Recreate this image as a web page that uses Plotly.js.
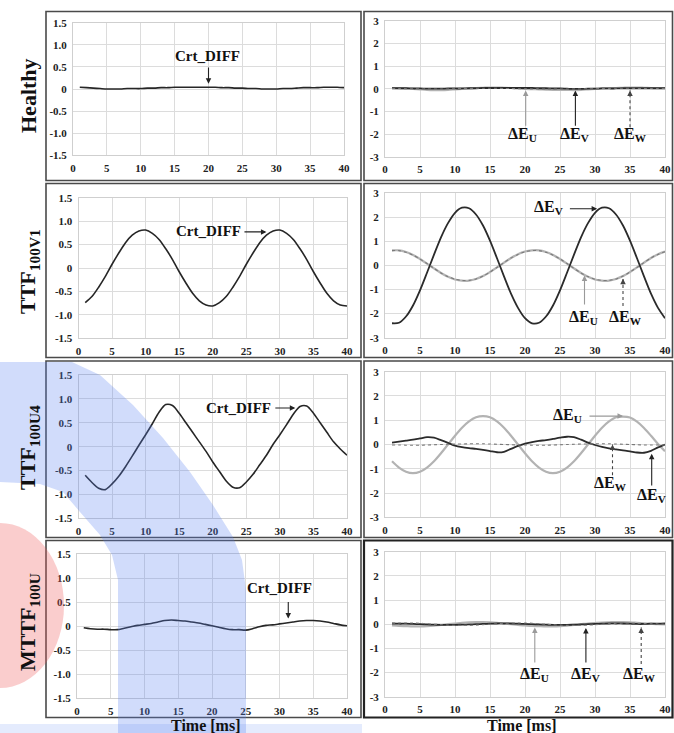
<!DOCTYPE html>
<html><head><meta charset="utf-8">
<script src="https://cdn.plot.ly/plotly-3.0.1.min.js"></script>
<style>html,body{margin:0;padding:0;background:#fff}#chart{width:674px;height:733px}</style>
</head><body><div id="chart"></div>
<script>
// ---------------- data ----------------
const time = [1,2,3,4,5,6,7,8,9,10,11,12,13,14,15,16,17,18,19,20,21,22,23,24,25,26,27,28,29,30,31,32,33,34,35,36,37,38,39,40];
const xTicks = [0,5,10,15,20,25,30,35,40];
const leftTickVals = [-1.5,-1,-0.5,0,0.5,1,1.5];
const leftTickText = ['-1.5','-1.0','-0.5','0','0.5','1.0','1.5'];
const rightTickVals = [-3,-2,-1,0,1,2,3];
const rightTickText = ['-3','-2','-1','0','1','2','3'];
const rowLabels = ['Healthy','TTF<sub>100V1</sub>','TTF<sub>100U4</sub>','MTTF<sub>100U</sub>'];
const xTitle = 'Time [ms]';

// Crt_DIFF (left column)
const crtHealthy = [0.04,0.03,0.02,0.01,0.0,0.0,0.0,0.01,0.01,0.01,0.02,0.02,0.03,0.03,0.04,0.04,0.04,0.04,0.04,0.04,0.04,0.03,0.03,0.02,0.02,0.01,0.01,0.0,0.0,0.0,0.01,0.01,0.02,0.03,0.03,0.03,0.04,0.04,0.04,0.03];
const crtTTF100V1 = [-0.74,-0.61,-0.41,-0.18,0.08,0.32,0.54,0.70,0.79,0.81,0.74,0.61,0.41,0.18,-0.08,-0.32,-0.54,-0.70,-0.79,-0.81,-0.74,-0.61,-0.41,-0.18,0.08,0.32,0.54,0.70,0.79,0.81,0.74,0.61,0.41,0.18,-0.08,-0.32,-0.54,-0.70,-0.79,-0.81];
const crtTTF100U4 = [-0.60,-0.75,-0.87,-0.90,-0.78,-0.62,-0.42,-0.20,0.03,0.25,0.48,0.72,0.88,0.86,0.70,0.50,0.30,0.10,-0.10,-0.32,-0.52,-0.72,-0.85,-0.86,-0.74,-0.58,-0.38,-0.18,0.05,0.25,0.46,0.68,0.84,0.85,0.70,0.50,0.30,0.10,-0.05,-0.18];
const crtMTTF100U = [-0.03,-0.05,-0.06,-0.06,-0.07,-0.07,-0.04,-0.01,0.02,0.04,0.06,0.09,0.12,0.13,0.12,0.11,0.09,0.07,0.04,0.01,-0.02,-0.05,-0.07,-0.07,-0.08,-0.05,-0.01,0.02,0.03,0.05,0.07,0.09,0.11,0.12,0.12,0.11,0.09,0.06,0.03,0.01];

// Delta E (right column)
const eUHealthy = [0.03,0.02,0.01,-0.01,-0.03,-0.05,-0.06,-0.06,-0.05,-0.03,-0.01,0.01,0.03,0.04,0.05,0.05,0.04,0.03,0.01,-0.01,-0.02,-0.03,-0.04,-0.05,-0.05,-0.05,-0.06,-0.05,-0.03,-0.01,0.01,0.02,0.03,0.04,0.05,0.05,0.04,0.03,0.02,0.02];
const eVHealthy = [0.02,0.02,0.02,0.01,0.01,0.0,0.0,0.0,0.01,0.01,0.01,0.02,0.02,0.03,0.03,0.03,0.03,0.03,0.03,0.03,0.03,0.02,0.02,0.01,0.01,0.0,-0.01,-0.01,0.0,0.0,0.01,0.01,0.01,0.02,0.02,0.02,0.02,0.02,0.02,0.02];
const eWHealthy = [0.01,0.01,0.0,0.0,-0.01,-0.01,-0.02,-0.02,-0.01,0.0,0.01,0.01,0.02,0.02,0.02,0.02,0.01,0.01,0.0,0.0,-0.01,-0.01,-0.02,-0.02,-0.02,-0.02,-0.01,-0.01,0.0,0.0,0.01,0.01,0.02,0.02,0.02,0.01,0.01,0.01,0.01,0.01];

const eUTTF100V1 = [0.63,0.63,0.56,0.44,0.27,0.08,-0.12,-0.31,-0.47,-0.58,-0.63,-0.63,-0.56,-0.44,-0.27,-0.08,0.12,0.31,0.47,0.58,0.63,0.63,0.56,0.44,0.27,0.08,-0.12,-0.31,-0.47,-0.58,-0.63,-0.63,-0.56,-0.44,-0.27,-0.08,0.12,0.31,0.47,0.58];
const eVTTF100V1 = [-2.40,-2.38,-2.12,-1.66,-1.03,-0.30,0.45,1.17,1.76,2.19,2.40,2.38,2.12,1.66,1.03,0.30,-0.45,-1.17,-1.76,-2.19,-2.40,-2.38,-2.12,-1.66,-1.03,-0.30,0.45,1.17,1.76,2.19,2.40,2.38,2.12,1.66,1.03,0.30,-0.45,-1.17,-1.76,-2.19];
const eWTTF100V1 = [0.62,0.62,0.55,0.43,0.27,0.08,-0.12,-0.31,-0.46,-0.57,-0.62,-0.62,-0.56,-0.44,-0.27,-0.08,0.12,0.31,0.46,0.57,0.62,0.62,0.55,0.43,0.27,0.08,-0.12,-0.31,-0.46,-0.57,-0.62,-0.62,-0.56,-0.44,-0.27,-0.08,0.12,0.31,0.46,0.57];

const eUTTF100U4 = [-0.69,-0.95,-1.12,-1.18,-1.12,-0.95,-0.69,-0.36,0.0,0.36,0.69,0.95,1.12,1.17,1.12,0.95,0.69,0.36,0.0,-0.36,-0.69,-0.95,-1.12,-1.18,-1.12,-0.95,-0.69,-0.36,0.0,0.36,0.69,0.95,1.12,1.15,1.11,0.94,0.68,0.36,0.02,-0.28];
const eVTTF100U4 = [0.08,0.12,0.16,0.20,0.25,0.30,0.28,0.18,0.07,-0.05,-0.11,-0.15,-0.18,-0.22,-0.27,-0.32,-0.30,-0.18,-0.06,0.04,0.10,0.15,0.18,0.23,0.28,0.32,0.30,0.20,0.08,-0.02,-0.10,-0.16,-0.20,-0.24,-0.28,-0.33,-0.34,-0.26,-0.12,0.0];
const eWTTF100U4 = [-0.02,-0.02,-0.03,-0.03,-0.03,-0.02,-0.01,0.0,0.01,0.02,0.02,0.03,0.03,0.03,0.02,0.01,0.0,-0.01,-0.02,-0.02,-0.03,-0.03,-0.03,-0.02,-0.01,0.0,0.01,0.02,0.02,0.03,0.03,0.03,0.02,0.01,0.0,-0.01,-0.02,-0.02,-0.02,-0.02];

const eUMTTF100U = [-0.05,-0.07,-0.08,-0.09,-0.09,-0.08,-0.06,-0.03,0.0,0.03,0.06,0.08,0.09,0.09,0.08,0.06,0.03,0.0,-0.03,-0.05,-0.07,-0.08,-0.09,-0.09,-0.08,-0.06,-0.03,0.0,0.03,0.05,0.07,0.08,0.09,0.09,0.08,0.06,0.04,0.02,0.0,-0.01];
const eVMTTF100U = [0.03,0.02,0.02,0.01,0.0,-0.01,-0.02,-0.03,-0.03,-0.03,-0.02,-0.01,0.0,0.01,0.02,0.03,0.03,0.03,0.02,0.01,0.0,-0.01,-0.02,-0.03,-0.03,-0.03,-0.02,-0.01,0.0,0.01,0.02,0.03,0.03,0.03,0.02,0.01,0.01,0.02,0.02,0.03];
const eWMTTF100U = [0.04,0.05,0.05,0.05,0.04,0.02,0.0,-0.02,-0.04,-0.05,-0.05,-0.05,-0.04,-0.02,0.0,0.02,0.04,0.05,0.05,0.05,0.04,0.02,0.0,-0.02,-0.04,-0.05,-0.05,-0.05,-0.04,-0.02,0.0,0.02,0.04,0.05,0.05,0.04,0.03,0.02,0.01,0.0];

// ---------------- drawing ----------------
const W = 674, H = 733;
const SERIF = '"Liberation Serif", "Times New Roman", serif';
const px = v => v / W;
const py = v => 1 - v / H;

const leftSeries = [crtHealthy, crtTTF100V1, crtTTF100U4, crtMTTF100U];
const rightSeries = [
  [eUHealthy, eVHealthy, eWHealthy],
  [eUTTF100V1, eVTTF100V1, eWTTF100V1],
  [eUTTF100U4, eVTTF100U4, eWTTF100U4],
  [eUMTTF100U, eVMTTF100U, eWMTTF100U]
];

// plot-area pixel positions
const leftXpx = [[73,344],[78.5,347],[78.5,347],[77,347]];
const rightXpx = [385,665];
const leftYpx = [[22.7,155.3],[197.7,338.3],[375,518.3],[554.3,698.3]];
const rightYpx = [[20.7,156.7],[193.3,337.7],[371.7,517.3],[551.7,696.7]];

const tickFont = {family: SERIF, size: 11, color: '#222', weight: 'bold'};
const layout = {
  width: W, height: H,
  margin: {l:0, r:0, t:0, b:0, pad:0},
  paper_bgcolor: '#fff', plot_bgcolor: '#fff',
  showlegend: false,
  font: {family: SERIF, color: '#111'},
  annotations: [], shapes: []
};
const traces = [];

function axX(idx, dom){
  return {domain:[px(dom[0]), px(dom[1])], range:[0,40], anchor:'y'+(idx===1?'':idx),
    tickmode:'array', tickvals:xTicks, ticktext:xTicks.map(String),
    showgrid:true, gridcolor:'#dcdcdc', gridwidth:1, zeroline:false,
    showline:true, linecolor:'#cfcfcf', linewidth:1, mirror:true,
    ticks:'', tickfont:tickFont, fixedrange:true, ticklabelstandoff:2};
}
function axY(idx, dom, left){
  return {domain:[py(dom[1]), py(dom[0])], range: left ? [-1.5,1.5] : [-3,3], anchor:'x'+(idx===1?'':idx),
    tickmode:'array', tickvals: left ? leftTickVals : rightTickVals, ticktext: left ? leftTickText : rightTickText,
    showgrid:true, gridcolor:'#dcdcdc', gridwidth:1, zeroline:false,
    showline:true, linecolor:'#cfcfcf', linewidth:1, mirror:true,
    ticks:'', tickfont:tickFont, fixedrange:true, ticklabelstandoff:3};
}

for (let r = 0; r < 4; r++){
  const iL = r*2+1, iR = r*2+2;
  const kL = iL===1 ? '' : iL, kR = iR;
  layout['xaxis'+kL] = axX(iL, leftXpx[r]);
  layout['yaxis'+kL] = axY(iL, leftYpx[r], true);
  layout['xaxis'+kR] = axX(iR, rightXpx);
  layout['yaxis'+kR] = axY(iR, rightYpx[r], false);
  traces.push({x: time, y: leftSeries[r], xaxis:'x'+kL, yaxis:'y'+kL, mode:'lines',
    line:{color:'#262626', width:1.6, shape:'spline', smoothing:0.8}, hoverinfo:'skip'});
  const [u, v, w] = rightSeries[r];
  traces.push({x: time, y: u, xaxis:'x'+kR, yaxis:'y'+kR, mode:'lines',
    line:{color:'#b3b3b3', width:2.2, shape:'spline', smoothing:0.8}, hoverinfo:'skip'});
  traces.push({x: time, y: v, xaxis:'x'+kR, yaxis:'y'+kR, mode:'lines',
    line:{color:'#2b2b2b', width:1.8, shape:'spline', smoothing:0.8}, hoverinfo:'skip'});
  traces.push({x: time, y: w, xaxis:'x'+kR, yaxis:'y'+kR, mode:'lines',
    line:{color:'#7a7a7a', width:1.1, dash:'dot', shape:'spline', smoothing:0.8}, hoverinfo:'skip'});
}

// panel boxes
const rowsBox = [[11.5,180.5],[183.5,357.5],[361,537.5],[540.5,717.5]];
rowsBox.forEach((b, r) => {
  layout.shapes.push({type:'rect', xref:'paper', yref:'paper', x0:px(46), x1:px(361), y0:py(b[1]), y1:py(b[0]),
    line:{color:'#4a4a4a', width:1.6}, layer:'above'});
  layout.shapes.push({type:'rect', xref:'paper', yref:'paper', x0:px(364), x1:px(672.5), y0:py(b[1]), y1:py(b[0]),
    line:{color: r===3 ? '#222' : '#4a4a4a', width: r===3 ? 2.2 : 1.6}, layer:'above'});
});

// text helpers
const annFont = s => ({family: SERIF, size: s, color: '#111', weight: 'bold'});
function label(xr, yr, x, y, text, size){
  layout.annotations.push({xref:xr, yref:yr, x:x, y:y, text:'<b>'+text+'</b>', showarrow:false,
    font:annFont(size), xanchor:'center', yanchor:'middle'});
}
function arrow(xr, yr, x0, y0, x1, y1, color, dotted){
  if (!dotted){
    layout.annotations.push({xref:xr, yref:yr, axref:xr, ayref:yr, x:x1, y:y1, ax:x0, ay:y0, text:'',
      showarrow:true, arrowhead:2, arrowsize:1, arrowwidth:1.1, arrowcolor:color, standoff:0, startstandoff:0});
  } else {
    layout.shapes.push({type:'line', xref:xr, yref:yr, x0:x0, y0:y0, x1:x1, y1:y1,
      line:{color:color, width:1.1, dash:'dot'}, layer:'above'});
    layout.annotations.push({xref:xr, yref:yr, x:x1, y:y1, ax:0, ay:(y1>y0?7:-7), text:'',
      showarrow:true, arrowhead:2, arrowsize:1, arrowwidth:1.1, arrowcolor:color, standoff:0});
  }
}
const DU = '&#916;E<sub>U</sub>', DV = '&#916;E<sub>V</sub>', DW = '&#916;E<sub>W</sub>';
const DK = '#222', GR = '#9a9a9a', DT = '#444';

// left column annotations
label('x','y',19.8,0.74,'Crt_DIFF',15);  arrow('x','y',20.0,0.52,20.0,0.12,DK,false);
label('x3','y3',19.3,0.78,'Crt_DIFF',15); arrow('x3','y3',24.5,0.77,28.0,0.77,DK,false);
label('x5','y5',23.9,0.81,'Crt_DIFF',15); arrow('x5','y5',29.1,0.81,32.3,0.81,DK,false);
label('x7','y7',30.0,0.80,'Crt_DIFF',15); arrow('x7','y7',31.3,0.54,31.3,0.16,DK,false);

// right column annotations
label('x2','y2',19.7,-2.0,DU,16); arrow('x2','y2',20.1,-1.7,20.1,-0.08,GR,false);
label('x2','y2',27.1,-2.0,DV,16); arrow('x2','y2',27.2,-1.7,27.2,-0.08,DK,false);
label('x2','y2',35.0,-2.0,DW,16); arrow('x2','y2',35.0,-1.7,35.0,-0.08,DT,true);

label('x4','y4',23.3,2.4,DV,16);  arrow('x4','y4',26.2,2.36,30.3,2.36,DK,false);
label('x4','y4',28.3,-2.15,DU,16); arrow('x4','y4',28.5,-1.68,28.5,-0.42,GR,false);
label('x4','y4',34.3,-2.15,DW,16); arrow('x4','y4',34.0,-1.68,34.0,-0.55,DT,true);

label('x6','y6',26.0,1.21,DU,16); arrow('x6','y6',29.0,1.17,34.0,1.17,GR,false);
label('x6','y6',32.2,-1.6,DW,16); arrow('x6','y6',32.5,-1.27,32.5,0.0,DT,true);
label('x6','y6',38.1,-2.1,DV,16); arrow('x6','y6',38.1,-1.75,38.1,-0.38,DK,false);

label('x8','y8',21.4,-2.07,DU,16); arrow('x8','y8',21.4,-1.65,21.4,-0.14,GR,false);
label('x8','y8',28.7,-2.07,DV,16); arrow('x8','y8',28.7,-1.65,28.7,-0.16,DK,false);
label('x8','y8',36.4,-2.07,DW,16); arrow('x8','y8',36.6,-1.65,36.6,-0.14,DT,true);

// row labels
const rowLabelY = [96, 272, 448, 622];
rowLabels.forEach((t, r) => {
  layout.annotations.push({xref:'paper', yref:'paper', x:px(29), y:py(rowLabelY[r]), text:'<b>'+t+'</b>',
    showarrow:false, textangle:-90, font:annFont(22), xanchor:'center', yanchor:'middle'});
});
// x titles
label('paper','paper',px(205),py(725),xTitle,16);
label('paper','paper',px(521),py(725),xTitle,16);

// translucent overlays seen in the image
const bluePts = [[0,362],[72,362],[100,375],[133,405],[163,438],[190,472],[213,505],[233,537],[242,560],[246,590],[246,733],
  [118,733],[118,580],[112,555],[100,535],[80,512],[63,492],[40,484],[0,482]];
const bluePath = 'M ' + bluePts.map(p => px(p[0]).toFixed(5)+' '+py(p[1]).toFixed(5)).join(' L ') + ' Z';
layout.shapes.push({type:'path', xref:'paper', yref:'paper', path:bluePath,
  fillcolor:'rgb(90,130,240)', opacity:0.28, line:{width:0}, layer:'above'});
layout.shapes.push({type:'rect', xref:'paper', yref:'paper', x0:px(0), x1:px(362), y0:py(733), y1:py(724),
  fillcolor:'rgb(90,130,240)', opacity:0.16, line:{width:0}, layer:'above'});
layout.shapes.push({type:'circle', xref:'paper', yref:'paper', x0:px(-64), x1:px(64), y0:py(688), y1:py(523),
  fillcolor:'rgb(240,90,90)', opacity:0.3, line:{width:0}, layer:'above'});

Plotly.newPlot('chart', traces, layout, {staticPlot:true, displayModeBar:false});
</script></body></html>
